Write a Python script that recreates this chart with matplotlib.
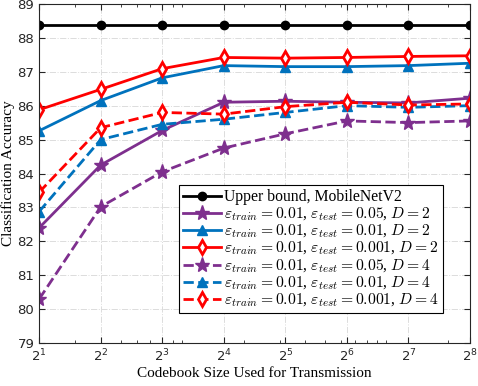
from matplotlib import pyplot as plt
from matplotlib.ticker import LogLocator, LogFormatterSciNotation, NullFormatter

codebook = [2, 4, 8, 16, 32, 64, 128, 256]
upper = [88.38] * 8
d2_e005 = [82.40, 84.25, 85.27, 86.10, 86.13, 86.10, 86.08, 86.22]
d2_e001 = [85.26, 86.15, 86.82, 87.18, 87.15, 87.15, 87.18, 87.25]
d2_e0001 = [85.88, 86.48, 87.09, 87.42, 87.40, 87.42, 87.45, 87.47]
d4_e005 = [80.30, 83.02, 84.05, 84.75, 85.17, 85.55, 85.50, 85.55]
d4_e001 = [82.88, 85.00, 85.45, 85.60, 85.80, 86.00, 85.95, 86.00]
d4_e0001 = [83.45, 85.35, 85.80, 85.75, 85.97, 86.10, 86.02, 86.05]

purple = (0.494, 0.184, 0.556)
blue = (0.0, 0.447, 0.741)
red = (1.0, 0.0, 0.0)

plt.rcParams['mathtext.fontset'] = 'cm'
plt.rcParams['font.family'] = 'Liberation Serif'

fig = plt.figure(figsize=(4.78, 3.86), dpi=100)
ax = fig.add_axes([0.082, 0.111, 0.901, 0.879])

lw = 2
ax.plot(codebook, upper, '-o', color='k', lw=lw, ms=6, label='Upper bound, MobileNetV2')
ax.plot(codebook, d2_e005, '-*', color=purple, lw=lw, ms=11,
        label=r'$\varepsilon_{train}=0.01$, $\varepsilon_{test}=0.05$, $D=2$')
ax.plot(codebook, d2_e001, '-^', color=blue, lw=lw, ms=7,
        label=r'$\varepsilon_{train}=0.01$, $\varepsilon_{test}=0.01$, $D=2$')
ax.plot(codebook, d2_e0001, '-d', color=red, lw=lw, ms=7, mfc='white', mew=2,
        label=r'$\varepsilon_{train}=0.01$, $\varepsilon_{test}=0.001$, $D=2$')
ax.plot(codebook, d4_e005, '--*', color=purple, lw=lw, ms=11,
        label=r'$\varepsilon_{train}=0.01$, $\varepsilon_{test}=0.05$, $D=4$')
ax.plot(codebook, d4_e001, '--^', color=blue, lw=lw, ms=7,
        label=r'$\varepsilon_{train}=0.01$, $\varepsilon_{test}=0.01$, $D=4$')
ax.plot(codebook, d4_e0001, '--d', color=red, lw=lw, ms=7, mfc='white', mew=2,
        label=r'$\varepsilon_{train}=0.01$, $\varepsilon_{test}=0.001$, $D=4$')

ax.set_xscale('log', base=2)
ax.set_xlim(2, 256)
ax.set_ylim(79, 89)
ax.set_xticks(codebook)
ax.xaxis.set_major_formatter(LogFormatterSciNotation(base=2))
ax.xaxis.set_minor_locator(LogLocator(base=10, subs=range(1, 10), numticks=20))
ax.xaxis.set_minor_formatter(NullFormatter())
ax.set_yticks(range(79, 90))

for lab in ax.get_xticklabels() + ax.get_yticklabels():
    lab.set_fontfamily('DejaVu Sans')
    lab.set_fontsize(9.5)
ax.tick_params(direction='in', top=True, right=True, which='both', colors='#262626')
ax.tick_params(which='minor', length=2.5)
ax.tick_params(which='major', length=4)

ax.grid(True, which='major', ls='-.', color='#dcdcdc', lw=0.7)
for s in ax.spines.values():
    s.set_color('#262626')

ax.set_xlabel('Codebook Size Used for Transmission', fontsize=11, labelpad=2)
ax.set_ylabel('Classification Accuracy', fontsize=11, labelpad=2)

leg = ax.legend(loc='lower right', bbox_to_anchor=(0.937, 0.088), fontsize=11.3,
                fancybox=False, edgecolor='k', framealpha=1, handlelength=2.4,
                labelspacing=0.0, borderpad=0.25, handletextpad=0.2, borderaxespad=0)
leg.get_frame().set_linewidth(0.8)

fig.savefig('out.png', dpi=100)
